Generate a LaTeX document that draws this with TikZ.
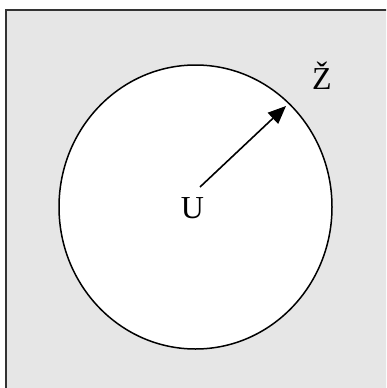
\documentclass[tikz,border=0pt]{standalone}
\usepackage{fontspec}
\setmainfont{Liberation Serif}
\usetikzlibrary{arrows.meta}
\definecolor{bggray}{HTML}{E6E6E6}
\definecolor{edgegray}{HTML}{333333}
\tikzset{
  lbl/.style={inner sep=0pt, font=\fontsize{32}{36}\selectfont},
  radius arrow/.style={line width=1.6pt, -{Triangle[length=18pt,width=15pt]}},
}
\begin{document}
\begin{tikzpicture}[x=1pt,y=-1pt]
\useasboundingbox (0,0) rectangle (386,388);
\begin{scope}
\clip (0,0) rectangle (386,388);
\draw[fill=bggray, draw=edgegray, line width=2pt] (6,10) rectangle (396,398);
\end{scope}
\draw[fill=white, line width=1.5pt] (195.5,207) ellipse [x radius=136.5, y radius=142];
\node[lbl] (u) at (192.5,208) {U};
\node[lbl] (z) at (322,76) {Ž};
\coordinate (s) at (200,187);
\coordinate (t) at (286,106);
\draw[radius arrow] (s) -- (t);
\end{tikzpicture}
\end{document}
